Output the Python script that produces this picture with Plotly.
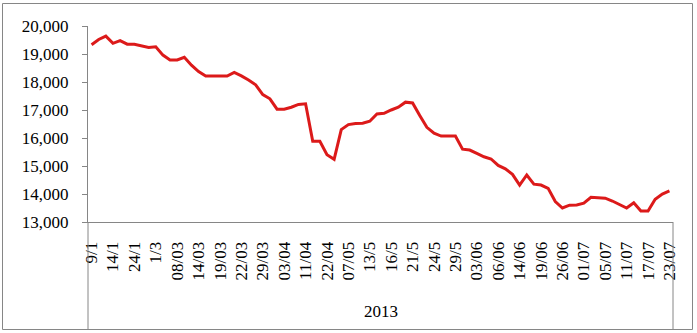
import plotly.graph_objects as go

# Daily price series (2013), one value per trading day
values = [19330, 19520, 19640, 19380, 19480, 19350, 19350, 19280, 19230, 19260,
          18960, 18790, 18790, 18880, 18600, 18370, 18210, 18210, 18210, 18210,
          18340, 18220, 18070, 17900, 17550, 17400, 17030, 17030, 17100, 17200,
          17220, 15880, 15880, 15400, 15240, 16300, 16480, 16520, 16530, 16600,
          16860, 16880, 17000, 17100, 17280, 17250, 16800, 16380, 16170, 16070,
          16070, 16070, 15600, 15570, 15450, 15330, 15250, 15020, 14900, 14700,
          14320, 14680, 14350, 14320, 14200, 13730, 13500, 13600, 13610, 13670,
          13880, 13870, 13850, 13750, 13620, 13500, 13690, 13390, 13390, 13810,
          14000, 14110]

# Date labels shown on the category axis (every third trading day)
tick_labels = ["9/1", "14/1", "24/1", "1/3", "08/03", "14/03", "19/03", "22/03",
               "29/03", "03/04", "11/04", "22/04", "07/05", "13/5", "16/5", "21/5",
               "24/5", "29/5", "03/06", "06/06", "14/06", "19/06", "26/06", "01/07",
               "05/07", "11/07", "17/07", "23/07"]
year_label = "2013"

y_ticks = [13000, 14000, 15000, 16000, 17000, 18000, 19000, 20000]

x = list(range(len(values)))
tick_pos = list(range(0, len(values), 3))

W, H = 697, 333
ML, MR, MT, MB = 88, 24, 26, 111
PW, PH = W - ML - MR, H - MT - MB

def px_x(p):
    return (p - ML) / PW

def px_y(p):
    return (H - MB - p) / PH

AXIS = "#868686"
FONT = "Liberation Serif"

fig = go.Figure()
fig.add_trace(go.Scatter(
    x=x, y=values, mode="lines",
    line=dict(color="#DC1A1A", width=3),
    hoverinfo="y",
))

fig.update_layout(
    width=W, height=H,
    margin=dict(l=ML, r=MR, t=MT, b=MB, pad=0),
    paper_bgcolor="white", plot_bgcolor="white",
    showlegend=False,
    font=dict(family=FONT, size=17, color="black"),
    xaxis=dict(
        range=[-0.5, len(values) - 0.5],
        tickmode="array", tickvals=tick_pos, ticktext=tick_labels,
        tickangle=-90, ticks="", showgrid=False, zeroline=False,
        showline=True, linecolor=AXIS, linewidth=1,
        tickfont=dict(family=FONT, size=17),
        ticklabelstandoff=12,
    ),
    yaxis=dict(
        range=[13000, 20000],
        tickmode="array", tickvals=y_ticks, tickformat=",d",
        ticks="outside", ticklen=5, tickcolor=AXIS,
        showgrid=False, zeroline=False,
        showline=True, linecolor=AXIS, linewidth=1,
        tickfont=dict(family=FONT, size=17),
        ticklabelstandoff=10,
    ),
    shapes=[
        # chart border
        dict(type="rect", xref="paper", yref="paper",
             x0=px_x(2.5), x1=px_x(692.5), y0=px_y(329.5), y1=px_y(3.5),
             line=dict(color=AXIS, width=1)),
        # category group box sides
        dict(type="line", xref="paper", yref="paper",
             x0=0, x1=0, y0=0, y1=px_y(329.5),
             line=dict(color=AXIS, width=1)),
        dict(type="line", xref="paper", yref="paper",
             x0=1, x1=1, y0=0, y1=px_y(329.5),
             line=dict(color=AXIS, width=1)),
    ],
    annotations=[
        dict(text=year_label, xref="paper", yref="paper",
             x=0.5, y=px_y(311), xanchor="center", yanchor="middle",
             showarrow=False, font=dict(family=FONT, size=17, color="black")),
    ],
)

fig.write_html("out.html")
